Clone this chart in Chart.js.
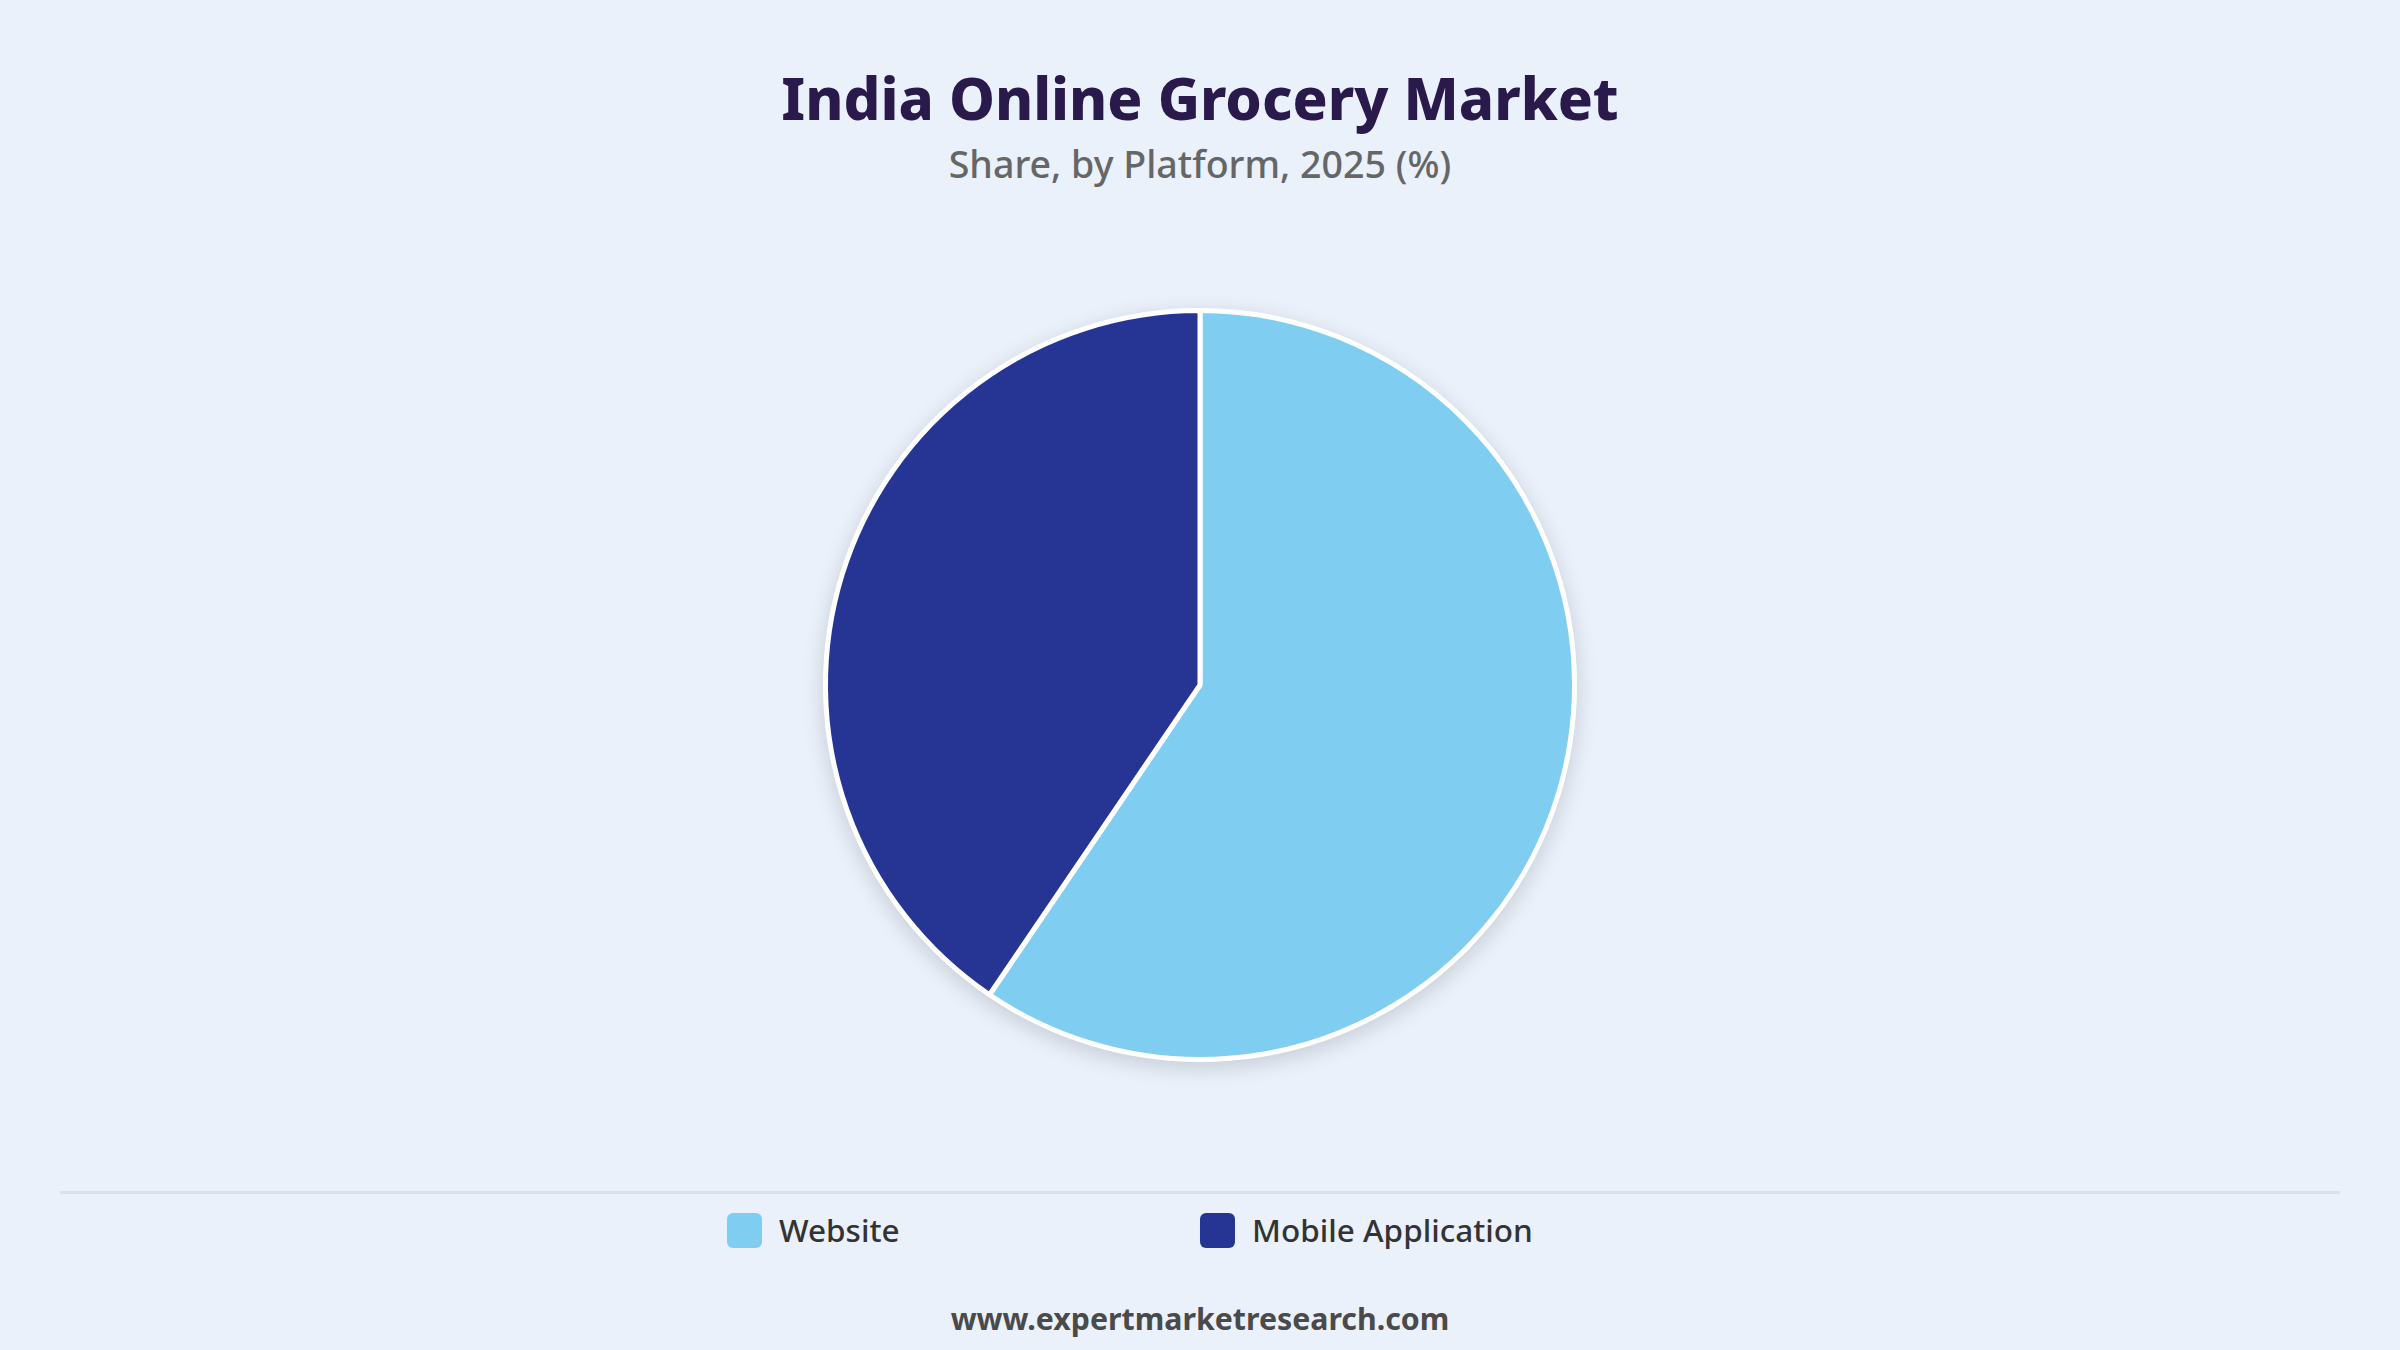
<!DOCTYPE html>
<html>
<head>
<meta charset="utf-8">
<script src="https://cdn.jsdelivr.net/npm/chart.js@4.4.1/dist/chart.umd.min.js"></script>
<style>
  html, body { margin: 0; padding: 0; }
  body {
    width: 2400px; height: 1350px; position: relative; overflow: hidden;
    background: #EAF1FB; font-family: "Noto Sans", sans-serif;
  }
  .title {
    position: absolute; left: 0; width: 2400px; top: 69px; text-align: center;
    font-size: 58px; line-height: 1; font-weight: 800; color: #2A1A4B;
  }
  .subtitle {
    position: absolute; left: 0; width: 2400px; top: 145px; text-align: center;
    font-size: 37.6px; line-height: 1; font-weight: 500; color: #666666;
  }
  #wrap { position: absolute; left: 0; top: 260px; width: 2400px; height: 850px; }
  .divider { position: absolute; left: 60px; width: 2280px; top: 1191px; height: 3px; background: #DCE0E7; }
  #legend {
    position: absolute; left: 727px; top: 1212px; display: flex;
  }
  .item { width: 473px; display: flex; align-items: center; height: 36px; }
  .box { width: 35px; height: 35px; border-radius: 6px; margin-right: 17px; }
  .lbl { font-size: 31.5px; line-height: 1; color: #333333; font-weight: 500; }
  .footer {
    position: absolute; left: 0; width: 2400px; top: 1304px; text-align: center;
    font-size: 30.3px; line-height: 1; font-weight: 700; color: #4A4A4A;
  }
</style>
</head>
<body>
<div class="title">India Online Grocery Market</div>
<div class="subtitle">Share, by Platform, 2025 (%)</div>
<div id="wrap"><canvas id="pie"></canvas></div>
<div class="divider"></div>
<div id="legend"></div>
<div class="footer">www.expertmarketresearch.com</div>
<script>
const platforms = ["Website", "Mobile Application"];
const shares = [59.5, 40.5];
const colors = ["#7FCEF1", "#263594"];

// soft shadow under the whole pie
const pieShadow = {
  id: "pieShadow",
  beforeDatasetsDraw(chart) {
    const arc = chart.getDatasetMeta(0).data[0];
    if (!arc) return;
    const ctx = chart.ctx;
    ctx.save();
    ctx.shadowColor = "rgba(0,0,0,0.16)";
    ctx.shadowBlur = 22;
    ctx.shadowOffsetY = 6;
    ctx.fillStyle = "#ffffff";
    ctx.beginPath();
    ctx.arc(arc.x, arc.y, arc.outerRadius + 2, 0, Math.PI * 2);
    ctx.fill();
    ctx.restore();
  }
};

const pie = new Chart(document.getElementById("pie"), {
  type: "pie",
  data: {
    labels: platforms,
    datasets: [{
      data: shares,
      backgroundColor: colors,
      borderColor: "#ffffff",
      borderWidth: 5
    }]
  },
  options: {
    responsive: true,
    maintainAspectRatio: false,
    animation: false,
    layout: { padding: 48 },
    plugins: {
      legend: { display: false },
      tooltip: { enabled: false }
    }
  },
  plugins: [pieShadow]
});

const legend = document.getElementById("legend");
platforms.forEach((p, i) => {
  const item = document.createElement("div");
  item.className = "item";
  item.innerHTML = '<span class="box" style="background:' + colors[i] + '"></span><span class="lbl">' + p + '</span>';
  legend.appendChild(item);
});
</script>
</body>
</html>
